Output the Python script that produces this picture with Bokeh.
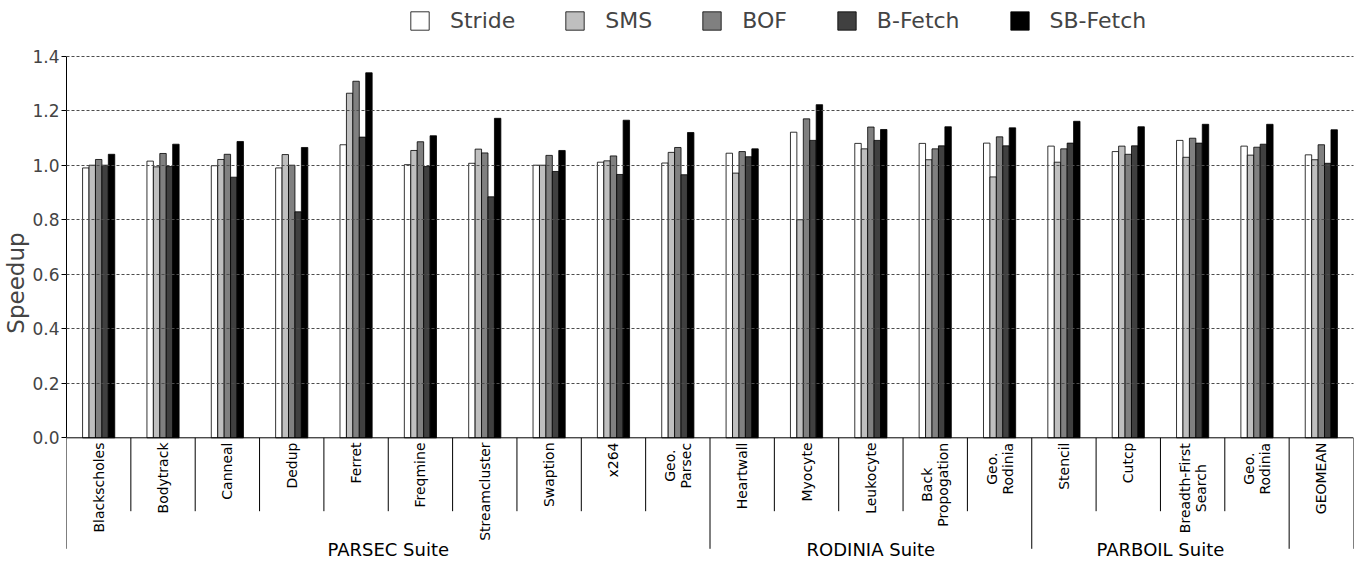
import math

from bokeh.core.properties import value
from bokeh.embed import file_html
from bokeh.models import (ColumnDataSource, FixedTicker, Grid, Legend, LegendItem,
                          LinearAxis, PrintfTickFormatter, Range1d)
from bokeh.plotting import figure
from bokeh.resources import INLINE

# ---------------------------------------------------------------- data
benchmarks = [
    "Blackscholes", "Bodytrack", "Canneal", "Dedup", "Ferret", "Freqmine",
    "Streamcluster", "Swaption", "x264", "Geo.\nParsec",
    "Heartwall", "Myocyte", "Leukocyte", "Back\nPropogation", "Geo.\nRodinia",
    "Stencil", "Cutcp", "Breadth-First\nSearch", "Geo.\nRodinia",
    "GEOMEAN",
]

suite_names = ["PARSEC Suite", "RODINIA Suite", "PARBOIL Suite"]
suite_first = [0, 10, 15]          # index of first benchmark in each suite
suite_last = [9, 14, 18]           # index of last benchmark in each suite

series_names = ["Stride", "SMS", "BOF", "B-Fetch", "SB-Fetch"]
series_colors = ["#ffffff", "#bfbfbf", "#808080", "#404040", "#000000"]

stride = [0.990, 1.015, 0.998, 0.990, 1.075, 1.002, 1.007, 1.000, 1.011, 1.008,
          1.044, 1.121, 1.080, 1.080, 1.081, 1.070, 1.050, 1.091, 1.070, 1.038]
sms = [1.000, 0.994, 1.021, 1.039, 1.264, 1.054, 1.059, 1.000, 1.016, 1.047,
       0.971, 0.800, 1.060, 1.020, 0.957, 1.011, 1.070, 1.029, 1.037, 1.020]
bof = [1.021, 1.043, 1.040, 1.000, 1.308, 1.086, 1.045, 1.036, 1.034, 1.065,
       1.050, 1.170, 1.140, 1.060, 1.104, 1.060, 1.040, 1.099, 1.066, 1.075]
bfetch = [1.000, 0.995, 0.956, 0.829, 1.103, 0.995, 0.884, 0.977, 0.966, 0.965,
          1.031, 1.091, 1.091, 1.071, 1.071, 1.081, 1.071, 1.081, 1.077, 1.007]
sbfetch = [1.040, 1.077, 1.087, 1.065, 1.339, 1.108, 1.172, 1.054, 1.165, 1.120,
           1.060, 1.222, 1.131, 1.141, 1.137, 1.161, 1.141, 1.150, 1.150, 1.130]

series_values = [stride, sms, bof, bfetch, sbfetch]

y_ticks = [0.0, 0.2, 0.4, 0.6, 0.8, 1.0, 1.2, 1.4]

# ---------------------------------------------------------------- layout
W, H = 1357, 565
LEFT, RIGHT = 66, 4
ZERO_PX = 437.3            # screen row of speedup 0.0
PX_PER_UNIT = 272.6        # screen pixels per unit of speedup
n = len(benchmarks)
px_per_slot = (W - LEFT - RIGHT) / n

y_top = ZERO_PX / PX_PER_UNIT
y_bot = -(H - ZERO_PX) / PX_PER_UNIT


def below(px):
    """Data y for a screen row `px` pixels below the zero line."""
    return -px / PX_PER_UNIT


FONT = value("DejaVu Sans")

p = figure(width=W, height=H, x_range=Range1d(0, n), y_range=Range1d(y_bot, y_top),
           x_axis_type=None, y_axis_type=None, output_backend="svg",
           toolbar_location=None, min_border_left=LEFT, min_border_right=RIGHT,
           min_border_top=0, min_border_bottom=0)
p.outline_line_color = None
p.background_fill_color = "white"

# ---------------------------------------------------------------- bars
bar_w = 0.1
centers = [i + 0.5 for i in range(n)]
renderers = []
for k, (vals, col) in enumerate(zip(series_values, series_colors)):
    src = ColumnDataSource(dict(x=[c + (k - 2) * bar_w for c in centers], top=vals))
    r = p.vbar(x="x", top="top", bottom=0, width=bar_w, source=src,
               fill_color=col, line_color="#000000", line_width=0.8)
    renderers.append(r)

# ---------------------------------------------------------------- y axis & grid
yaxis = LinearAxis(ticker=FixedTicker(ticks=y_ticks),
                   formatter=PrintfTickFormatter(format="%.1f"),
                   bounds=(0, 1.4), axis_label="Speedup")
yaxis.axis_label_text_font = "DejaVu Sans"
yaxis.axis_label_text_font_size = "23px"
yaxis.axis_label_text_font_style = "normal"
yaxis.axis_label_standoff = 0
yaxis.major_label_text_font = "DejaVu Sans"
yaxis.major_label_text_font_size = "17px"
yaxis.major_label_standoff = 2
yaxis.major_tick_out = 5
yaxis.major_tick_in = 0
yaxis.minor_tick_out = 0
yaxis.minor_tick_in = 0
yaxis.axis_line_color = "black"
yaxis.major_tick_line_color = "black"
p.add_layout(yaxis, "left")

grid = Grid(dimension=1, ticker=FixedTicker(ticks=y_ticks[1:]),
            grid_line_color="#4d4d4d", grid_line_dash="3 2", grid_line_width=1,
            level="overlay")
p.add_layout(grid)

# zero line
p.segment(x0=[0], y0=[0], x1=[n], y1=[0], line_color="black", line_width=1)

# ---------------------------------------------------------------- category labels
# DejaVu Sans advance widths (em) for the letters of the two-line labels
ADV = {" ": .318, "-": .361, ".": .318, "B": .686, "F": .575, "G": .775, "P": .603,
       "R": .695, "S": .635, "a": .613, "c": .550, "d": .635, "e": .615, "g": .635,
       "h": .634, "i": .278, "k": .579, "n": .634, "o": .612, "p": .635, "r": .411,
       "s": .521, "t": .392}
LAB_SIZE = 14
LAB_TOP = 4.7          # gap between zero line and label ends, px
LINE_STEP = 16         # distance between stacked label lines, px

one_x, one_y, one_t = [], [], []
multi_x, multi_y, multi_t = [], [], []
for i, lab in enumerate(benchmarks):
    lines = lab.split("\n")
    if len(lines) == 1:
        one_x.append(centers[i])
        one_y.append(below(LAB_TOP))
        one_t.append(lab)
    else:
        wmax = max(sum(ADV.get(ch, .6) for ch in ln) for ln in lines) * LAB_SIZE
        yc = below(LAB_TOP + wmax / 2)
        for j, ln in enumerate(lines):
            off = (j - (len(lines) - 1) / 2) * LINE_STEP / px_per_slot
            multi_x.append(centers[i] + off)
            multi_y.append(yc)
            multi_t.append(ln)

p.text(x=one_x, y=one_y, text=one_t, angle=math.pi / 2, text_align="right",
       text_baseline="middle", text_font=FONT, text_font_size=f"{LAB_SIZE}px",
       text_color="black")
p.text(x=multi_x, y=multi_y, text=multi_t, angle=math.pi / 2, text_align="center",
       text_baseline="middle", text_font=FONT, text_font_size=f"{LAB_SIZE}px",
       text_color="black")

# separators between benchmarks and between suites
suite_edges = sorted(set([0, n] + suite_first + [s + 1 for s in suite_last]))
short_x = [k for k in range(1, n) if k not in suite_edges]
p.segment(x0=short_x, y0=[0] * len(short_x), x1=short_x,
          y1=[below(73.4)] * len(short_x), line_color="black", line_width=1)
p.segment(x0=suite_edges, y0=[0] * len(suite_edges), x1=suite_edges,
          y1=[below(111)] * len(suite_edges), line_color="black", line_width=1)

# suite names
p.text(x=[(a + b + 1) / 2 for a, b in zip(suite_first, suite_last)],
       y=[below(111.7)] * len(suite_names), text=suite_names,
       text_align="center", text_baseline="middle", text_font=FONT,
       text_font_size="18px", text_color="black")

# ---------------------------------------------------------------- legend
legend = Legend(items=[LegendItem(label=nm, renderers=[r])
                       for nm, r in zip(series_names, renderers)],
                orientation="horizontal", location=(342, 532),
                glyph_width=23, glyph_height=23, label_standoff=19, spacing=48,
                padding=0, margin=0, border_line_color=None,
                background_fill_alpha=0, label_text_font="DejaVu Sans",
                label_text_font_size="22px", label_text_baseline="middle")
p.add_layout(legend)

open("out.html", "w").write(file_html(p, INLINE))
